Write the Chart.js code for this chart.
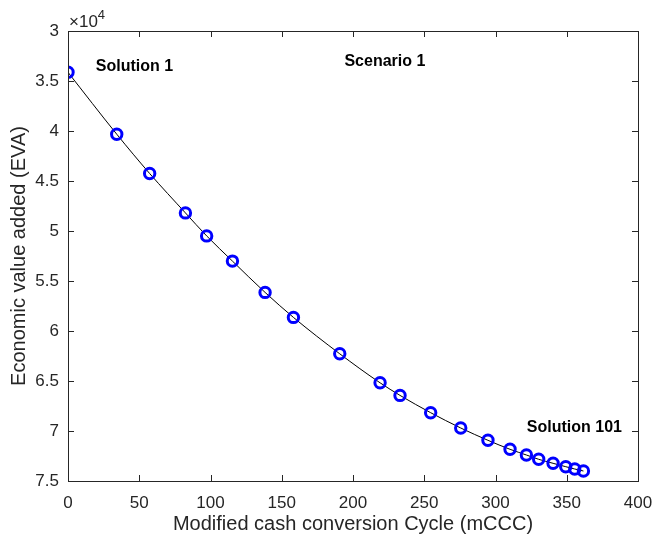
<!DOCTYPE html>
<html lang="en">
<head>
    <meta charset="UTF-8">
    <title>Scenario 1 - EVA vs mCCC</title>
    <style>
        body {
            margin: 0;
            padding: 0;
            background-color: #fff;
        }
        #wrap {
            width: 654px;
            height: 538px;
        }
    </style>
</head>
<body>
    <div id="wrap"><canvas id="chart"></canvas></div>

    <script src="https://cdn.jsdelivr.net/npm/chart.js"></script>
    <script>
        // Pareto solutions
        var mccc = [0, 34.2, 57.3, 82.4, 97.3, 115.4, 138.3, 158.2, 190.7, 219, 233,
                    254.5, 275.6, 294.7, 310.2, 321.7, 330.3, 340.4, 349.3, 355.6, 361.7];
        var eva = [34130, 40320, 44250, 48190, 50490, 53010, 56140, 58640, 62280, 65180, 66440,
                   68170, 69700, 70930, 71830, 72400, 72830, 73230, 73570, 73800, 74000];
        var xTicks = [0, 50, 100, 150, 200, 250, 300, 350, 400];
        var yTicks = [30000, 35000, 40000, 45000, 50000, 55000, 60000, 65000, 70000, 75000];

        var notes = [
            { text: 'Solution 1', x: 19.5, y: 33530 },
            { text: 'Scenario 1', x: 194, y: 33030 },
            { text: 'Solution 101', x: 322, y: 69700 }
        ];

        var points = mccc.map(function (x, i) { return { x: x, y: eva[i] }; });
        var axisColor = '#262626';
        var font = 'Liberation Sans, Arial, sans-serif';

        // MATLAB-like box with ticks pointing inward, plus text labels
        var matlabBox = {
            id: 'matlabBox',
            afterDatasetsDraw: function (chart) {
                var ctx = chart.ctx;
                var a = chart.chartArea;
                var xs = chart.scales.x, ys = chart.scales.y;
                ctx.save();
                ctx.strokeStyle = axisColor;
                ctx.lineWidth = 1;
                ctx.strokeRect(Math.round(a.left) + 0.5, Math.round(a.top) + 0.5,
                    Math.round(a.right - a.left), Math.round(a.bottom - a.top));
                ctx.beginPath();
                xTicks.forEach(function (t) {
                    var px = Math.round(xs.getPixelForValue(t)) + 0.5;
                    ctx.moveTo(px, a.bottom); ctx.lineTo(px, a.bottom - 6);
                    ctx.moveTo(px, a.top); ctx.lineTo(px, a.top + 6);
                });
                yTicks.forEach(function (t) {
                    var py = Math.round(ys.getPixelForValue(t)) + 0.5;
                    ctx.moveTo(a.left, py); ctx.lineTo(a.left + 6, py);
                    ctx.moveTo(a.right, py); ctx.lineTo(a.right - 6, py);
                });
                ctx.stroke();

                // annotations
                ctx.fillStyle = '#000';
                ctx.font = 'bold 16px ' + font;
                ctx.textBaseline = 'middle';
                ctx.textAlign = 'left';
                notes.forEach(function (n) {
                    ctx.fillText(n.text, xs.getPixelForValue(n.x), ys.getPixelForValue(n.y));
                });

                // exponent label
                ctx.fillStyle = axisColor;
                ctx.textBaseline = 'alphabetic';
                ctx.font = '17px ' + font;
                ctx.fillText('\u00d710', a.left + 1, a.top - 4);
                var w = ctx.measureText('\u00d710').width;
                ctx.font = '13px ' + font;
                ctx.fillText('4', a.left + 1 + w, a.top - 12);
                ctx.restore();
            }
        };

        new Chart(document.getElementById('chart'), {
            type: 'scatter',
            data: {
                datasets: [{
                    label: 'solutions',
                    data: points,
                    showLine: false,
                    pointStyle: 'circle',
                    pointRadius: 5.2,
                    pointBorderWidth: 3,
                    pointBorderColor: '#0000ff',
                    pointBackgroundColor: 'rgba(0,0,0,0)',
                    order: 1
                }, {
                    label: 'front',
                    data: points,
                    showLine: true,
                    borderColor: '#000',
                    borderWidth: 1,
                    pointRadius: 0,
                    cubicInterpolationMode: 'monotone',
                    order: 2
                }]
            },
            plugins: [matlabBox],
            options: {
                responsive: true,
                maintainAspectRatio: false,
                animation: false,
                events: [],
                layout: { padding: { top: 31, right: 16, left: 7, bottom: 0 } },
                plugins: {
                    legend: { display: false },
                    tooltip: { enabled: false }
                },
                scales: {
                    x: {
                        type: 'linear',
                        min: 0,
                        max: 400,
                        afterBuildTicks: function (s) { s.ticks = xTicks.map(function (v) { return { value: v }; }); },
                        afterFit: function (s) { s.height = 57; s.paddingRight = 0; s.paddingLeft = 0; },
                        grid: { display: false, drawTicks: false },
                        border: { display: false },
                        ticks: {
                            color: axisColor,
                            padding: 12,
                            maxRotation: 0,
                            font: { family: font, size: 17 }
                        },
                        title: {
                            display: true,
                            text: 'Modified cash conversion Cycle (mCCC)',
                            color: axisColor,
                            padding: { top: 2, bottom: 2 },
                            font: { family: font, size: 20 }
                        }
                    },
                    y: {
                        type: 'linear',
                        reverse: true,
                        min: 30000,
                        max: 75000,
                        afterBuildTicks: function (s) { s.ticks = yTicks.map(function (v) { return { value: v }; }); },
                        afterFit: function (s) { s.width = 61; s.paddingTop = 0; s.paddingBottom = 0; },
                        grid: { display: false, drawTicks: false },
                        border: { display: false },
                        ticks: {
                            color: axisColor,
                            padding: 9,
                            font: { family: font, size: 17 },
                            callback: function (v) { return v / 10000; }
                        },
                        title: {
                            display: true,
                            text: 'Economic value added (EVA)',
                            color: axisColor,
                            padding: { top: 0, bottom: 2 },
                            font: { family: font, size: 20 }
                        }
                    }
                }
            }
        });
    </script>
</body>
</html>
